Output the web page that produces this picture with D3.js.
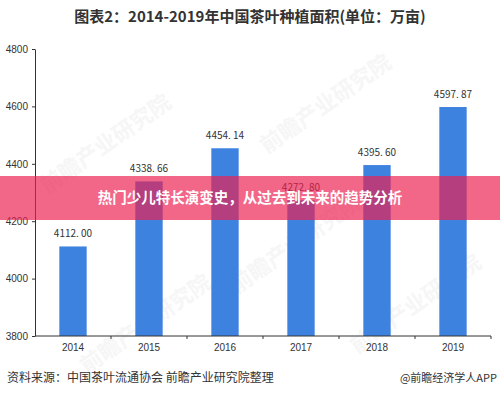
<!DOCTYPE html>
<html>
<head>
<meta charset="utf-8">
<script src="https://cdn.jsdelivr.net/npm/d3@7"></script>
<style>
  body { margin: 0; background: #fff; }
  svg { display: block; font-family: "Noto Sans CJK SC", "Noto Sans", sans-serif; }
  .axis text { fill: #333; font-size: 10px; }
  .axis path, .axis line { stroke: #333; }
</style>
</head>
<body>
<svg id="chart" width="500" height="396"></svg>
<script>
// chart data
const years = ["2014", "2015", "2016", "2017", "2018", "2019"];
const areas = [4112.00, 4338.66, 4454.14, 4272.80, 4395.60, 4597.87];
const yTicks = [3800, 4000, 4200, 4400, 4600, 4800];

const titleText = "图表2：2014-2019年中国茶叶种植面积(单位：万亩)";
const sourceText = "资料来源：中国茶叶流通协会 前瞻产业研究院整理";
const creditText = "@前瞻经济学人APP";
const bannerText = "热门少儿特长演变史，从过去到未来的趋势分析";

const svg = d3.select("svg#chart");

const plot = { left: 35, right: 491, top: 49, bottom: 336 };

const x = d3.scaleBand()
  .domain(years)
  .range([plot.left, plot.right])
  .paddingInner(0.64)
  .paddingOuter(0.32);

const y = d3.scaleLinear()
  .domain([3800, 4800])
  .range([plot.bottom, plot.top]);

// faint watermarks
const marks = [[110, 150], [330, 110], [420, 310], [150, 330], [300, 250]];
svg.append("g").selectAll("text")
  .data(marks)
  .enter()
  .append("text")
  .attr("transform", d => translate(d[0], d[1]) + " rotate(-35)")
  .attr("text-anchor", "middle")
  .style("font-size", "22px")
  .style("font-weight", "bold")
  .style("fill", "#ececec")
  .style("opacity", 0.45)
  .text("前瞻产业研究院");

// title
svg.append("text")
  .attr("x", 250)
  .attr("y", 22)
  .attr("text-anchor", "middle")
  .style("font-size", "15px")
  .style("font-weight", "bold")
  .style("fill", "#333")
  .text(titleText);

// bars
svg.append("g").selectAll("rect")
  .data(areas)
  .enter()
  .append("rect")
  .attr("x", (d, i) => x(years[i]))
  .attr("y", d => y(d))
  .attr("width", x.bandwidth())
  .attr("height", d => y(3800) - y(d))
  .style("fill", "#3e82e0");

// value labels
const fmt = d3.format(".2f");
svg.append("g").selectAll("text")
  .data(areas)
  .enter()
  .append("text")
  .attr("x", (d, i) => x(years[i]) + x.bandwidth() / 2)
  .attr("y", d => y(d) - 9)
  .attr("text-anchor", "middle")
  .style("font-size", "10px")
  .style("fill", "#333")
  .text(d => fmt(d).replace(".", ". "));

// axes
const yAxis = d3.axisLeft(y)
  .tickValues(yTicks)
  .tickFormat(d3.format("d"))
  .tickSize(3)
  .tickSizeOuter(0)
  .tickPadding(4);

svg.append("g")
  .attr("class", "axis")
  .attr("transform", translate(plot.left, 0))
  .call(yAxis);

const xAxis = svg.append("g")
  .attr("class", "axis")
  .attr("transform", translate(0, plot.bottom))
  .call(d3.axisBottom(x).tickSize(0).tickPadding(8));

// ticks between categories
xAxis.selectAll("line.sep")
  .data(years)
  .enter()
  .append("line")
  .attr("class", "sep")
  .attr("x1", d => x(d) - x.step() * x.paddingOuter() + x.step())
  .attr("x2", d => x(d) - x.step() * x.paddingOuter() + x.step())
  .attr("y1", 0)
  .attr("y2", 3);

xAxis.select("path.domain").attr("d", "M" + plot.left + ",0H" + plot.right);

// banner overlay
svg.append("rect")
  .attr("x", 0)
  .attr("y", 176)
  .attr("width", 500)
  .attr("height", 44)
  .style("fill", "rgb(236,30,80)")
  .style("opacity", 0.68);

svg.append("text")
  .attr("x", 250)
  .attr("y", 203)
  .attr("text-anchor", "middle")
  .style("font-size", "14.5px")
  .style("font-weight", "bold")
  .style("fill", "#fff")
  .text(bannerText);

// footer
svg.append("text")
  .attr("x", 7)
  .attr("y", 382)
  .style("font-size", "12px")
  .style("fill", "#333")
  .text(sourceText);

svg.append("text")
  .attr("x", 497)
  .attr("y", 382)
  .attr("text-anchor", "end")
  .style("font-size", "11px")
  .style("fill", "#333")
  .text(creditText);

function translate(x, y) {
  return "translate(" + String(x) + "," + String(y) + ")";
}
</script>
</body>
</html>
